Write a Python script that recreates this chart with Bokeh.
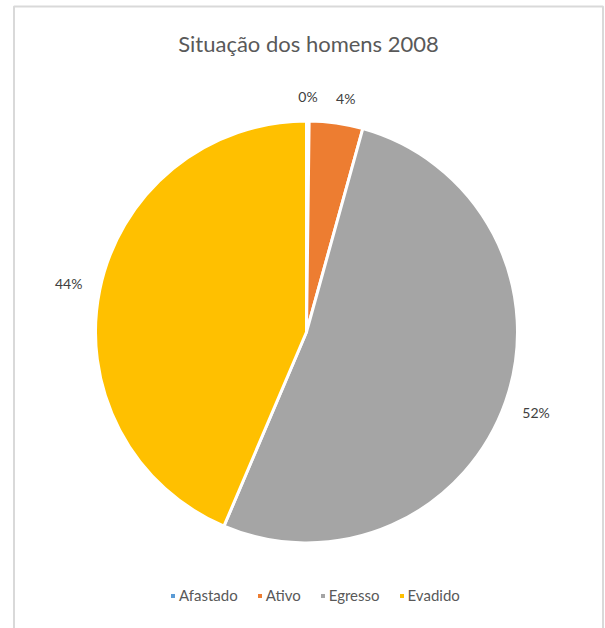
import math
from bokeh.plotting import figure
from bokeh.models import ColumnDataSource, Range1d, Legend, LegendItem, Label
from bokeh.core.properties import value
from bokeh.embed import file_html
from bokeh.resources import INLINE

# ---- data ----
title_text = "Situação dos homens 2008"
categories = ["Afastado", "Ativo", "Egresso", "Evadido"]
shares = [0.2, 4.1, 52.1, 43.6]          # percent
colors = ["#5B9BD5", "#ED7D31", "#A5A5A5", "#FFC000"]

FONT = "Lato"
W, H = 605, 628
R = 211
cx_px, cy_px = 306, 331.5   # pie centre in figure pixels (from top-left)

p = figure(width=W, height=H, output_backend="svg", toolbar_location=None,
           x_range=Range1d(-cx_px, W - cx_px), y_range=Range1d(cy_px - H, cy_px),
           min_border=0, border_fill_color="white", background_fill_color="white")
p.axis.visible = False
p.grid.visible = False
p.outline_line_color = None

# chart-area border (left, top, right)
bl, br, bt = -cx_px + 13.5, W - cx_px - 2.5, cy_px - 6
p.line(x=[bl, bl, br, br], y=[cy_px - H - 5, bt, bt, cy_px - H - 5],
       line_color="#D9D9D9", line_width=2)

total = sum(shares)
starts, ends, mids = [], [], []
cum = 0.0
for s in shares:
    a0 = math.pi / 2 - 2 * math.pi * cum / total
    cum += s
    a1 = math.pi / 2 - 2 * math.pi * cum / total
    starts.append(a0); ends.append(a1); mids.append((a0 + a1) / 2)

src = ColumnDataSource(dict(cat=categories, start=starts, end=ends, color=colors))
p.wedge(x=0, y=0, radius=R, start_angle="start", end_angle="end", direction="clock",
        fill_color="color", line_color="white", line_width=3, source=src)

# data labels (outside, best-fit like)
lab_fs = 14
gap = 17
lx, ly, ltxt, lhw = [], [], [], []
for s, m in zip(shares, mids):
    t = f"{round(s / total * 100):d}%"
    hw = 0.3 * lab_fs * len(t) + 1
    hh = lab_fs * 0.5
    ux, uy = math.cos(m), math.sin(m)
    rr = R + gap + hw * abs(ux) + hh * abs(uy)
    x, y = rr * ux, rr * uy
    # push apart from previous label if too close (simple overlap avoidance)
    if lx and abs(y - ly[-1]) < lab_fs * 1.5:
        min_sep = lhw[-1] + hw + 19
        if x - lx[-1] < min_sep:
            x = lx[-1] + min_sep
    lx.append(x); ly.append(y); ltxt.append(t); lhw.append(hw)
p.text(x=lx, y=ly, text=ltxt, text_align="center", text_baseline="middle",
       text_font=value(FONT), text_font_size=f"{lab_fs}px", text_color="#404040")

# title
p.add_layout(Label(x=cx_px + 2, y=H - 43, x_units="screen", y_units="screen",
                   text=title_text, text_align="center", text_baseline="middle",
                   text_font=FONT, text_font_size="22px", text_color="#595959"))

# legend via small squares
items = []
for i, c in enumerate(categories):
    rend = p.quad(left=[float("nan")], right=[float("nan")], bottom=[float("nan")],
                  top=[float("nan")], fill_color=colors[i], line_color=None)
    items.append(LegendItem(label=c, renderers=[rend]))
legend = Legend(items=items, orientation="horizontal", location=(170, 24),
                glyph_width=5, glyph_height=5, label_standoff=4, spacing=19,
                label_height=16, padding=0, margin=0, border_line_color=None,
                background_fill_alpha=0, label_text_font=FONT,
                label_text_font_size="15px", label_text_color="#595959")
p.add_layout(legend, "center")

open("out.html", "w").write(file_html(p, INLINE))
